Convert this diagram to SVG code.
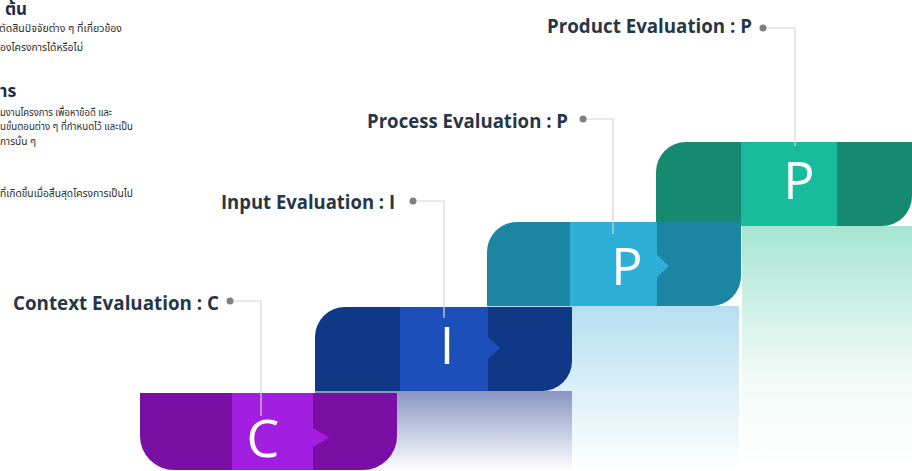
<svg xmlns="http://www.w3.org/2000/svg" width="912" height="471" viewBox="0 0 912 471">
<defs>
<linearGradient id="gI" x1="0" y1="0" x2="0" y2="1"><stop offset="0" stop-color="#8796c2"/><stop offset="1" stop-color="#ffffff"/></linearGradient>
<linearGradient id="gP1" x1="0" y1="0" x2="0" y2="1"><stop offset="0" stop-color="#b5dff1"/><stop offset="1" stop-color="#ffffff"/></linearGradient>
<linearGradient id="gP2" x1="0" y1="0" x2="0" y2="1"><stop offset="0" stop-color="#a5e5d2"/><stop offset="0.6" stop-color="#f0faf7"/><stop offset="1" stop-color="#ffffff"/></linearGradient>
</defs>
<style>
.lbl{font-family:"Open Sans","Noto Sans",sans-serif;font-weight:700;font-size:20px;fill:#263646}
.let{font-family:"Open Sans","Noto Sans",sans-serif;font-weight:400;font-size:52px;fill:#ffffff;text-anchor:middle}
.th{font-family:"Noto Sans Thai","Noto Sans","DejaVu Sans",sans-serif;font-size:10.5px;fill:#2a2a2a}
.thh{font-family:"Noto Sans Thai","Noto Sans","DejaVu Sans",sans-serif;font-size:17px;font-weight:700;fill:#1c2d48}
.con{fill:none;stroke:#d6d6d6;stroke-width:1.2}
.dot{fill:#7f7f7f}
</style>
<rect width="912" height="471" fill="#ffffff"/>
<g id="thai-text">
<text class="thh" x="5" y="15">ต้น</text>
<text class="th" x="-1" y="32" textLength="123" lengthAdjust="spacingAndGlyphs">ตัดสินปัจจัยต่าง ๆ ที่เกี่ยวข้อง</text>
<text class="th" x="0" y="51" textLength="83" lengthAdjust="spacingAndGlyphs">องโครงการได้หรือไม่</text>
<text class="thh" x="0" y="97">าร</text>
<text class="th" x="0" y="116" textLength="112" lengthAdjust="spacingAndGlyphs">มงานโครงการ เพื่อหาข้อดี และ</text>
<text class="th" x="0" y="130" textLength="133" lengthAdjust="spacingAndGlyphs">นขั้นตอนต่าง ๆ ที่กำหนดไว้ และเป็น</text>
<text class="th" x="0" y="145" textLength="36" lengthAdjust="spacingAndGlyphs">การนั้น ๆ</text>
<text class="th" x="0" y="197" textLength="133" lengthAdjust="spacingAndGlyphs">ที่เกิดขึ้นเมื่อสิ้นสุดโครงการเป็นไป</text>
</g>
<g id="shadows">
<rect x="742" y="226" width="170" height="245" fill="url(#gP2)"/>
<rect x="487" y="306" width="252" height="165" fill="url(#gP1)"/>
<rect x="315" y="391" width="257" height="80" fill="url(#gI)"/>
</g>
<g id="node-product">
<path d="M686,142 H912 V196 A30,30 0 0 1 882,226 H656 V172 A30,30 0 0 1 686,142 Z" fill="#168a70"/>
<rect x="741" y="142" width="96" height="84" fill="#18bc9c"/>
<text class="let" x="799" y="199">P</text>
</g>
<g id="node-process">
<path d="M517,222 H741 V276 A30,30 0 0 1 711,306 H487 V252 A30,30 0 0 1 517,222 Z" fill="#1c86a2"/>
<rect x="570" y="222" width="87" height="84" fill="#2eafd7"/>
<polygon points="657,255 669,266 657,277" fill="#2eafd7"/>
<text class="let" x="627" y="285">P</text>
</g>
<g id="node-input">
<path d="M345,307 H572 V361 A30,30 0 0 1 542,391 H315 V337 A30,30 0 0 1 345,307 Z" fill="#0f3886"/>
<rect x="400" y="307" width="88" height="84" fill="#1c4fb9"/>
<polygon points="488,337 500,348 488,359" fill="#1c4fb9"/>
<text class="let" x="447" y="364">I</text>
</g>
<g id="node-context">
<path d="M140,393 H397 V436 A34,34 0 0 1 363,470 H174 A34,34 0 0 1 140,436 Z" fill="#7a0fa6"/>
<rect x="232" y="393" width="81" height="77" fill="#a21ee0"/>
<polygon points="313,428 329,437.5 313,447" fill="#a21ee0"/>
<text class="let" x="263" y="457">C</text>
</g>
<g id="connectors">
<polyline class="con" points="230,301 261,301 261,416"/>
<polyline class="con" points="413,201 444,201 444,318"/>
<polyline class="con" points="583,119 613,119 613,234"/>
<polyline class="con" points="763,28 795,28 795,146"/>
<circle class="dot" cx="230" cy="301" r="3.5"/>
<circle class="dot" cx="413" cy="201" r="3.5"/>
<circle class="dot" cx="583" cy="119" r="3.5"/>
<circle class="dot" cx="763" cy="28" r="3.5"/>
</g>
<g id="labels">
<text class="lbl" x="13" y="310" textLength="206" lengthAdjust="spacingAndGlyphs">Context Evaluation : C</text>
<text class="lbl" x="221" y="209" textLength="174" lengthAdjust="spacingAndGlyphs">Input Evaluation : I</text>
<text class="lbl" x="367" y="128" textLength="201" lengthAdjust="spacingAndGlyphs">Process Evaluation : P</text>
<text class="lbl" x="547" y="33" textLength="205" lengthAdjust="spacingAndGlyphs">Product Evaluation : P</text>
</g>
</svg>
